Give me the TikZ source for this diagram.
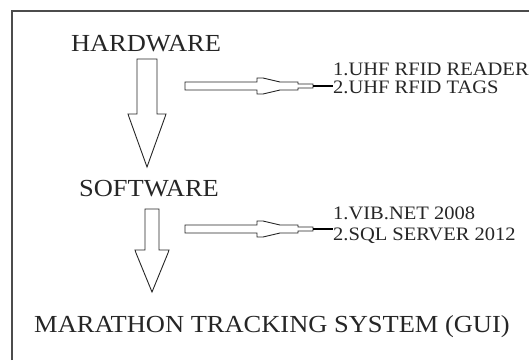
\documentclass[tikz,border=0pt]{standalone}
\usepackage{fontspec}
\setmainfont{Liberation Serif}
\newfontfamily\stretchserif[FakeStretch=1.08]{Liberation Serif}
\usetikzlibrary{positioning}

\begin{document}
\begin{tikzpicture}[x=1pt,y=-1pt]
    \tikzstyle{stage} = [inner sep=0pt, anchor=base, text=black!85, font=\stretchserif\fontsize{24.5}{24.5}\selectfont]
    \tikzstyle{item} = [inner sep=0pt, anchor=base west, text=black!85, font=\stretchserif\fontsize{19}{19}\selectfont]
    \tikzstyle{blockarrow} = [draw=black!85, line width=0.9pt, fill=white]
    \tikzstyle{tail} = [draw=black, line width=1.4pt]

    \useasboundingbox (0,0) rectangle (529,360);

    % Frame
    \draw[black!70, line width=1.2pt] (12,360) -- (12,11) -- (529,11);

    % Stages
    \node[stage] (hw) at (146,51) {HARDWARE};
    \node[stage] (sw) at (149,196) {SOFTWARE};
    \node[stage] (mts) at (272,332) {MARATHON TRACKING SYSTEM (GUI)};

    % Item lists
    \node[item] (hwitema) at (333,75) {1.UHF RFID READER};
    \node[item] (hwitemb) at (333,93) {2.UHF RFID TAGS};
    \node[item] (switema) at (333,219) {1.VIB.NET 2008};
    \node[item] (switemb) at (333,240) {2.SQL SERVER 2012};

    % Down arrows
    \draw[blockarrow] (137,59) -- (157,59) -- (157,114) -- (166,114) -- (165,117)
        -- (147,167) -- (129,117) -- (128,114) -- (137,114) -- cycle;
    \draw[blockarrow] (145,209) -- (159,209) -- (159,250) -- (169,250) -- (168,253)
        -- (152,292) -- (136,253) -- (135,250) -- (145,250) -- cycle;

    % Side arrows
    \foreach \cy/\nm in {86/hwtail, 229/swtail} {
        \draw[blockarrow] (185,\cy-4) -- (257,\cy-4) -- (257,\cy-8) -- (263,\cy-8)
            -- (280,\cy-4) -- (298,\cy-4) -- (298,\cy-2) -- (313,\cy-2)
            -- (313,\cy+2) -- (298,\cy+2) -- (298,\cy+4) -- (280,\cy+4)
            -- (263,\cy+8) -- (257,\cy+8) -- (257,\cy+4) -- (185,\cy+4) -- cycle;
        \coordinate (\nm) at (313,\cy);
    }
    \draw[tail] (hwtail) -- (hwtail -| hwitemb.west);
    \draw[tail] (swtail) -- (swtail -| switemb.west);
\end{tikzpicture}
\end{document}
